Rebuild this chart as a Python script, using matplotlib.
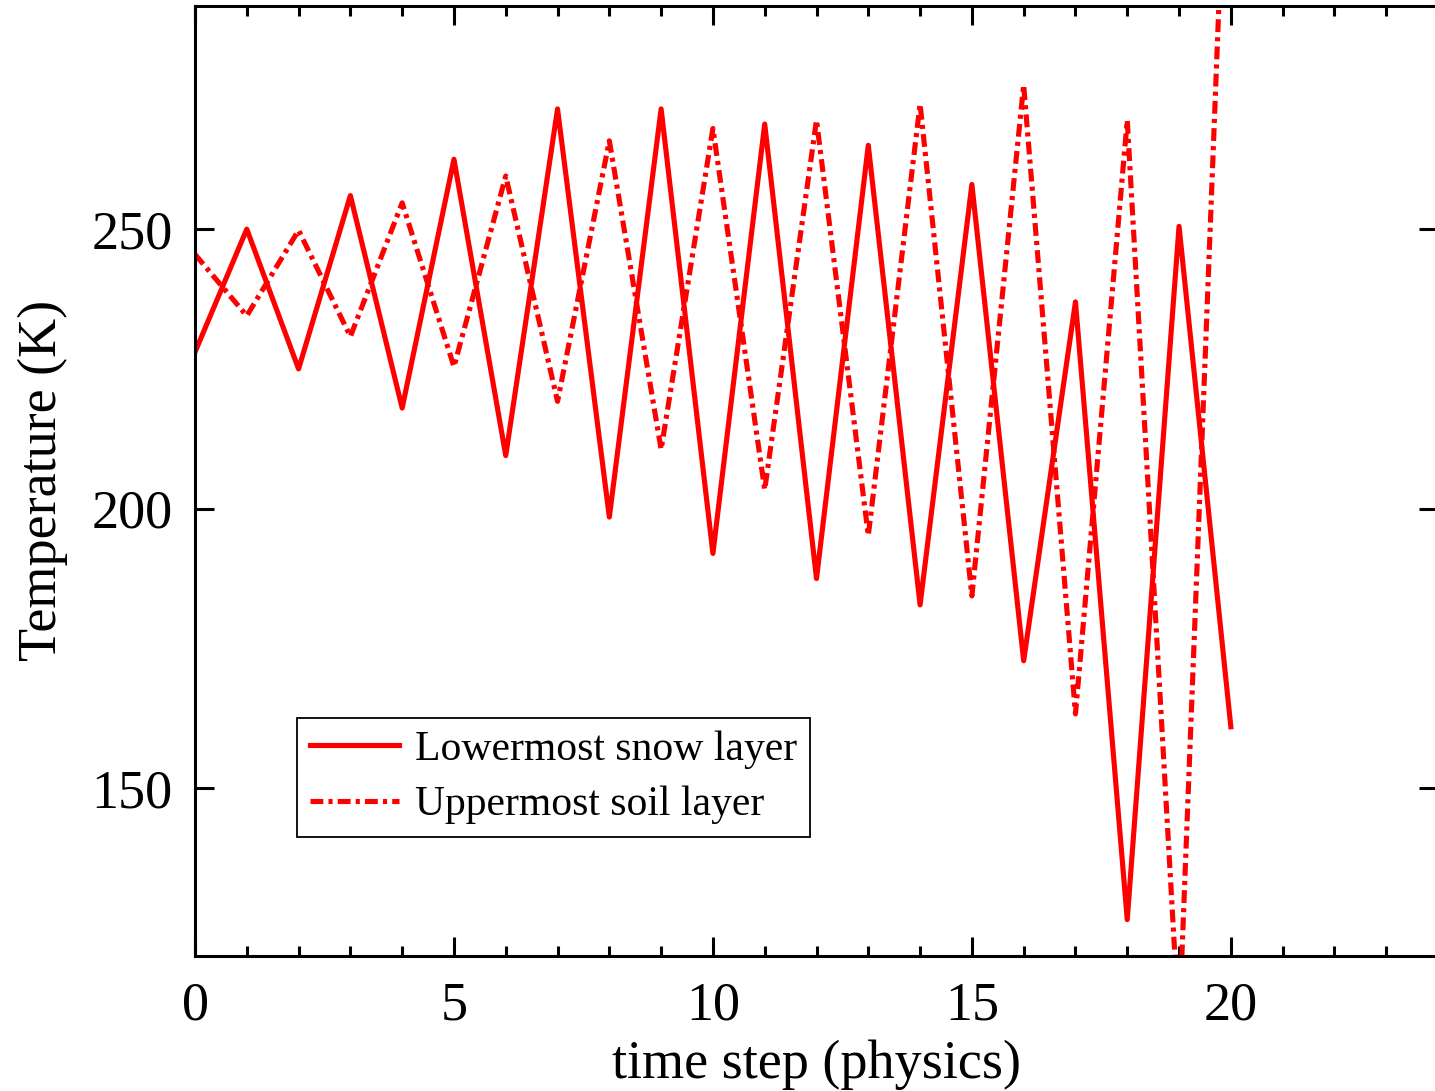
import numpy as np
import matplotlib
matplotlib.use('Agg')
import matplotlib.pyplot as plt
from matplotlib.ticker import MultipleLocator

# data
steps = list(range(0, 21))
snow_lowest = [228, 250, 225, 256, 218, 262.5, 209.5, 271.5, 198.5, 271.5, 192,
               268.8, 187.5, 265, 182.8, 258, 172.8, 237, 126.5, 250.5, 161]
soil_upper = [245.5, 234.5, 249.8, 230.8, 254.7, 225.4, 259.5, 219.2, 265.8, 210.6,
              268, 203.4, 269.5, 195.2, 272.4, 184.4, 275.8, 163.3, 269.5, 107, 345]
LABELS = ['Lowermost snow layer', 'Uppermost soil layer']
X_LABEL = 'time step (physics)'
Y_LABEL = 'Temperature (K)'

plt.rcParams['font.family'] = ['Liberation Serif', 'DejaVu Serif']

W, H = 1435, 1091
fig = plt.figure(figsize=(W / 100, H / 100), dpi=100)
left, right, bottom, top = 195, 1438, 956, 5.5
ax = fig.add_axes([left / W, 1 - bottom / H, (right - left) / W, (bottom - top) / H])

ax.plot(steps, snow_lowest, color='#ff0000', lw=3.7, label=LABELS[0])
ax.plot(steps, soil_upper, color='#ff0000', lw=3.7, dashes=(2.5, 1.0, 0.8, 1.0),
        label=LABELS[1])

ax.set_xlim(0, 24)
ax.set_ylim(120, 290)
ax.xaxis.set_major_locator(MultipleLocator(5))
ax.xaxis.set_minor_locator(MultipleLocator(1))
ax.yaxis.set_major_locator(MultipleLocator(50))
ax.tick_params(which='both', direction='in', top=True, right=True, width=2.2)
ax.tick_params(which='major', length=14, labelsize=39, pad=18)
ax.tick_params(which='minor', length=7)
ax.tick_params(axis='y', pad=16)
for sp in ax.spines.values():
    sp.set_linewidth(2.2)

ax.set_xlabel(X_LABEL, fontsize=39, labelpad=6)
ax.set_ylabel(Y_LABEL, fontsize=39, labelpad=17)

leg = ax.legend(loc='upper left', bbox_to_anchor=((297 - left) / (right - left),
                                                  (bottom - 718) / (bottom - top)),
                borderaxespad=0, fontsize=30, frameon=True, fancybox=False,
                framealpha=1, handlelength=2.15, handletextpad=0.38,
                labelspacing=0.4, borderpad=0.3)
leg.get_frame().set_edgecolor('black')
leg.get_frame().set_linewidth(1.3)

plt.savefig('out.png', dpi=100)
